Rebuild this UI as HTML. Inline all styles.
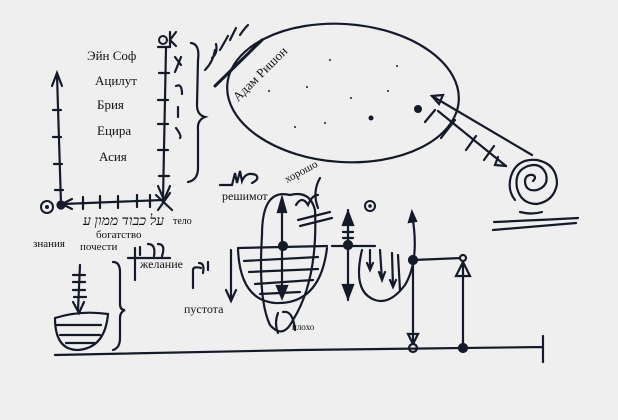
<!DOCTYPE html>
<html><head><meta charset="utf-8"><style>
html,body{margin:0;padding:0;background:#efefef;}
svg{display:block}
text{font-family:"Liberation Serif",serif;fill:#111;}
</style></head><body>
<svg width="618" height="420" viewBox="0 0 618 420" xmlns="http://www.w3.org/2000/svg">
<rect width="618" height="420" fill="#efefef"/>
<g stroke="#151a2a" fill="none" stroke-width="2.2" stroke-linecap="round">
<path d="M57 75 L61 204"/>
<path d="M52 86 L57 73 L62 86"/>
<path d="M53 110h8M53 137h8M54 164h8M55 190h8"/>
<path d="M63 204 L163 200"/>
<path d="M83 197v12M100 196v12M118 196v12M137 195v12M150 195v12"/>
<path d="M62 204 L72 199 M62 204 L72 209"/>
<path d="M166 48 L163 200"/>
<path d="M158 47h12M159 73h10M158 100h10M158 124h10M158 150h10M159 176h10"/>
<path d="M158 186 L164 200 L170 186"/>
<path d="M156 195 L172 210 M170 193 L158 210"/>
<circle cx="47" cy="207" r="6" stroke-width="2"/>
<circle cx="61" cy="205" r="3.5" fill="#151a2a"/>
<path d="M191 43 Q200 44 198 60 L197 105 Q197 115 205 117 Q197 120 198 130 L198 168 Q198 180 188 182"/>
<circle cx="163" cy="40" r="4" stroke-width="2"/>
<path d="M170 32 v14 M176 32 l-6 8 l6 6"/>
<path d="M175 57 l6 8 M181 57 l-6 15 M176 86 q6 -3 6 8 M178 107 v10 M176 128 q6 8 4 10"/>
<ellipse cx="343" cy="93" rx="116" ry="69" transform="rotate(4 343 93)"/>
<path d="M215 86 L262 40" stroke-width="3"/>
<path d="M205 70 q8 -8 10 -20 M212 58 q6 -5 4 -14 M220 50 l8 -14 M230 40 l6 -12 M240 35 q4 -6 8 -10"/>
<path d="M438 111 L506 166"/>
<path d="M432 96 L532 155"/>
<path d="M432 96 l11 -1 l-4 9 z"/>
<path d="M506 166 l-11 -1 l3 -8"/>
<path d="M425 122 l10 -12 M441 138 l14 -18 M466 150 l10 -14 M484 160 l10 -14"/>
<path d="M533 181 q4 -4 0 -6 q-8 -1 -8 7 q1 10 12 8 q12 -4 9 -16 q-5 -12 -18 -8 q-14 5 -11 22 q4 16 20 16 q17 -3 20 -20 q0 -20 -20 -24 q-20 -2 -26 16 q-4 14 4 24"/>
<path d="M520 212 q12 3 22 0"/>
<path d="M494 222 Q540 220 578 218 M493 230 Q540 226 576 223"/>
<path d="M220 185 h12 l3 -12 l2 10 l3 -12 l2 10 q4 -10 14 -6 q4 4 -4 8"/>
<path d="M290 195 Q262 188 262 235 Q258 300 270 325 Q283 340 293 320 Q318 280 315 210 Q310 190 290 195"/>
<path d="M282 200 L282 294"/>
<path d="M278 212 l4 -14 l4 14 z" fill="#151a2a"/>
<path d="M277 286 l5 12 l5 -12 z" fill="#151a2a"/>
<path d="M238 249 Q240 300 275 303 Q320 305 327 248"/>
<path d="M238 248 L327 246 M244 261 L318 257 M249 272 L318 269 M255 284 L313 280 M260 294 L300 292"/>
<circle cx="283" cy="246" r="4" fill="#151a2a"/>
<path d="M296 205 q6 -10 12 0 q4 -10 10 -10 M320 178 q-8 14 -2 30 M298 220 L330 212 M300 226 L332 218"/>
<path d="M278 313 q-4 10 0 20 M283 312 q10 -2 12 18"/>
<path d="M231 250 L231 300 M226 290 L231 301 L236 290"/>
<path d="M193 288 v-18 q0 -4 8 -2 M199 263 q6 0 4 10 M208 262 v8"/>
<path d="M128 258 h42 M135 248 v32 M140 247 v8 M148 244 q8 0 6 12 M158 244 q8 0 4 12"/>
<path d="M348 210 L348 300 M332 246 L375 246 M343 232 h10 M343 238 h10"/>
<path d="M343 225 l5 -13 l5 13 z M343 285 l5 13 l5 -13 z" fill="#151a2a"/>
<circle cx="348" cy="245" r="4" fill="#151a2a"/>
<circle cx="370" cy="206" r="5" stroke-width="2"/>
<path d="M412 214 Q420 260 405 285 Q390 305 375 300 Q352 292 362 250"/>
<path d="M370 250 L370 270 M367 263 l3 7 l3 -7 M380 250 L382 280 M379 272 l3 8 l3 -8 M392 253 L393 287 M390 280 l3 7 l3 -7 M398 255 L400 290"/>
<path d="M413 260 L413 347"/>
<path d="M409 222 l3 -10 l4 9 z" fill="#151a2a"/>
<path d="M408 334 l5 10 l5 -10 z"/>
<circle cx="413" cy="260" r="4" fill="#151a2a"/>
<path d="M413 260 L462 258"/>
<circle cx="463" cy="258" r="3" fill="#efefef"/>
<path d="M463 261 L463 348 M456 276 l7 -14 l7 14 z"/>
<circle cx="413" cy="348" r="4" fill="#efefef"/>
<circle cx="463" cy="348" r="4" fill="#151a2a"/>
<path d="M55 355 L300 350 L543 347 M543 336 L543 362"/>
<path d="M80 265 L78 310 M73 275 h12 M73 282 h12 M73 290 h12 M74 297 h12"/>
<path d="M73 302 l6 11 l5 -11"/>
<path d="M55 318 Q55 350 78 350 Q105 348 108 314 Q80 310 55 318 M57 325 h44 M60 335 h40 M66 343 h30"/>
<path d="M113 262 q7 0 7 10 v32 q0 6 5 6 q-5 2 -5 8 v20 q0 10 -7 12"/>
</g>
<g stroke="none" fill="#151a2a">
<circle cx="418" cy="109" r="4"/><circle cx="371" cy="118" r="2.5"/>
<circle cx="330" cy="60" r="1"/><circle cx="397" cy="66" r="1"/><circle cx="307" cy="87" r="1"/><circle cx="269" cy="91" r="1"/>
<circle cx="351" cy="98" r="1"/><circle cx="388" cy="91" r="1"/><circle cx="295" cy="127" r="1"/><circle cx="325" cy="123" r="1"/>
<circle cx="47" cy="207" r="2"/><circle cx="370" cy="206" r="1.8"/>
</g>
<text x="87" y="60" font-size="13">Эйн Соф</text>
<text x="95" y="85" font-size="13">Ацилут</text>
<text x="97" y="109" font-size="13">Брия</text>
<text x="97" y="135" font-size="13">Ецира</text>
<text x="99" y="161" font-size="13">Асия</text>
<text x="173" y="224" font-size="10">тело</text>
<text x="33" y="247" font-size="11">знания</text>
<text x="96" y="238" font-size="11">богатство</text>
<text x="80" y="250" font-size="11">почести</text>
<text x="140" y="268" font-size="12">желание</text>
<text x="184" y="313" font-size="12">пустота</text>
<text x="222" y="200" font-size="12">решимот</text>
<text x="292" y="330" font-size="9">плохо</text>
<text transform="translate(287 183) rotate(-28)" font-size="11">хорошо</text>
<text transform="translate(238 102) rotate(-45)" font-size="13">Адам Ришон</text>
<text x="83" y="225" font-size="14" font-family="DejaVu Sans" style="font-style:italic">על כבוד ממון ע</text>
</svg>
</body></html>
